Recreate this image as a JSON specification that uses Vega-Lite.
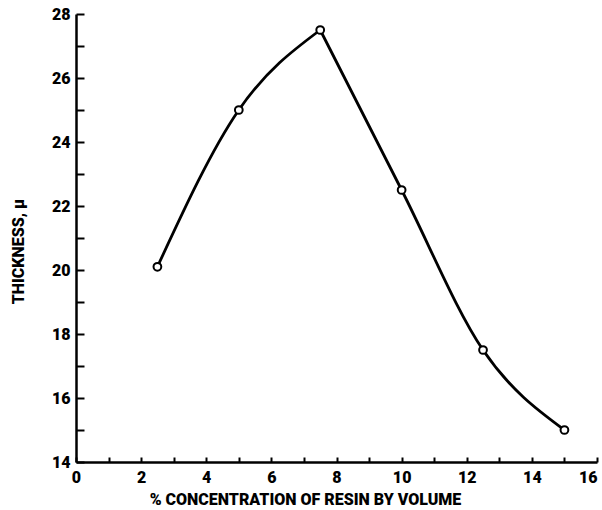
{
  "$schema": "https://vega.github.io/schema/vega-lite/v6.json",
  "autosize": "none",
  "width": 521,
  "height": 448,
  "padding": {"left": 76, "top": 14, "right": 5, "bottom": 48},
  "background": "white",
  "config": {
    "view": {"stroke": null},
    "axis": {
      "grid": false,
      "domainColor": "black",
      "domainWidth": 2.5,
      "tickColor": "black",
      "tickWidth": 2,
      "labelFont": "Roboto",
      "labelFontWeight": 900,
      "labelFontSize": 16,
      "labelColor": "black",
      "titleFont": "Roboto",
      "titleFontWeight": 900,
      "titleFontSize": 16,
      "titleColor": "black"
    }
  },
  "data": {
    "values": [
      {"c": 2.5, "t": 20.1},
      {"c": 5, "t": 25},
      {"c": 7.5, "t": 27.5},
      {"c": 10, "t": 22.5},
      {"c": 12.5, "t": 17.5},
      {"c": 15, "t": 15}
    ]
  },
  "encoding": {
    "x": {
      "field": "c",
      "type": "quantitative",
      "scale": {"domain": [0, 16], "nice": false},
      "axis": {
        "title": "% CONCENTRATION  OF RESIN BY VOLUME",
        "values": [0,1,2,3,4,5,6,7,8,9,10,11,12,13,14,15,16],
        "labelExpr": "datum.value % 2 == 0 ? datum.label : ''",
        "tickSize": -5,
        "labelPadding": 12,
        "labelFlush": false,
        "labelOverlap": false,
        "labelAlign": {"condition": {"test": "datum.value == 16", "value": "right"}, "value": "center"},
        "titleX": 229,
        "titleY": 37,
        "titleAlign": "center",
        "titleBaseline": "middle"
      }
    },
    "y": {
      "field": "t",
      "type": "quantitative",
      "scale": {"domain": [14, 28], "nice": false, "zero": false},
      "axis": {
        "title": "THICKNESS, μ",
        "values": [14,15,16,17,18,19,20,21,22,23,24,25,26,27,28],
        "labelExpr": "datum.value % 2 == 0 ? datum.label : ''",
        "tickSize": -8,
        "labelPadding": 14,
        "labelFlush": false,
        "labelOverlap": false,
        "titleX": -58,
        "titleY": 237,
        "titleAngle": -90,
        "titleAlign": "center",
        "titleBaseline": "middle"
      }
    }
  },
  "layer": [
    {
      "transform": [{"filter": "datum.c <= 7.5"}],
      "mark": {"type": "line", "interpolate": "monotone", "color": "black", "strokeWidth": 2.8}
    },
    {
      "transform": [{"filter": "datum.c >= 7.5"}],
      "mark": {"type": "line", "interpolate": "monotone", "color": "black", "strokeWidth": 2.8}
    },
    {
      "mark": {"type": "point", "shape": "circle", "filled": false, "fill": "white", "fillOpacity": 1, "stroke": "black", "strokeWidth": 2, "size": 60, "opacity": 1}
    }
  ]
}
